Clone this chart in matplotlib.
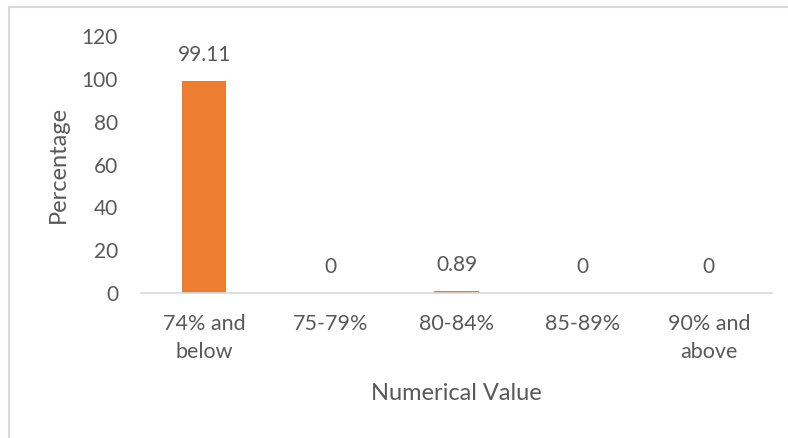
import matplotlib.pyplot as plt
from matplotlib.lines import Line2D

categories = ['74% and\nbelow', '75-79%', '80-84%', '85-89%', '90% and\nabove']
percentages = [99.11, 0, 0.89, 0, 0]
value_labels = ['99.11', '0', '0.89', '0', '0']
yticks = [0, 20, 40, 60, 80, 100, 120]

plt.rcParams['font.family'] = ['Lato', 'DejaVu Sans']
text_col = '#595959'
grid_col = '#d9d9d9'

fig = plt.figure(figsize=(7.88, 4.38), dpi=100)
ax = fig.add_axes([141 / 788, 1 - 292.7 / 438, 631 / 788, 256.3 / 438])

x = range(len(categories))
ax.bar(x, percentages, width=0.354, color='#ed7d31')
for i, (v, lab) in enumerate(zip(percentages, value_labels)):
    ax.annotate(lab, (i, v), xytext=(0, 18.5), textcoords='offset points',
                ha='center', va='center', fontsize=15, color=text_col)

ax.set_xlim(-0.5, len(categories) - 0.5)
ax.set_ylim(0, 120)
ax.set_yticks(yticks)
ax.set_xticks(list(x))
ax.set_xticklabels(categories, fontsize=15.5, color=text_col, linespacing=1.55)
ax.tick_params(axis='y', length=0, pad=16.5, labelsize=15, labelcolor=text_col)
ax.tick_params(axis='x', length=0, pad=15)
for s in ['top', 'right', 'left']:
    ax.spines[s].set_visible(False)
ax.spines['bottom'].set_color(grid_col)
ax.spines['bottom'].set_linewidth(1.2)

ax.set_ylabel('Percentage', fontsize=17, color=text_col, labelpad=9)
ax.set_xlabel('Numerical Value', fontsize=17, color=text_col, labelpad=15)

# chart frame (partially outside the image)
fig.add_artist(Line2D([8.5 / 788, 8.5 / 788], [0, 1 - 6.5 / 438],
                      transform=fig.transFigure, color=grid_col, lw=1.5))
fig.add_artist(Line2D([8.5 / 788, 1], [1 - 6.5 / 438, 1 - 6.5 / 438],
                      transform=fig.transFigure, color=grid_col, lw=1.5))

plt.savefig('out.png', dpi=100)
